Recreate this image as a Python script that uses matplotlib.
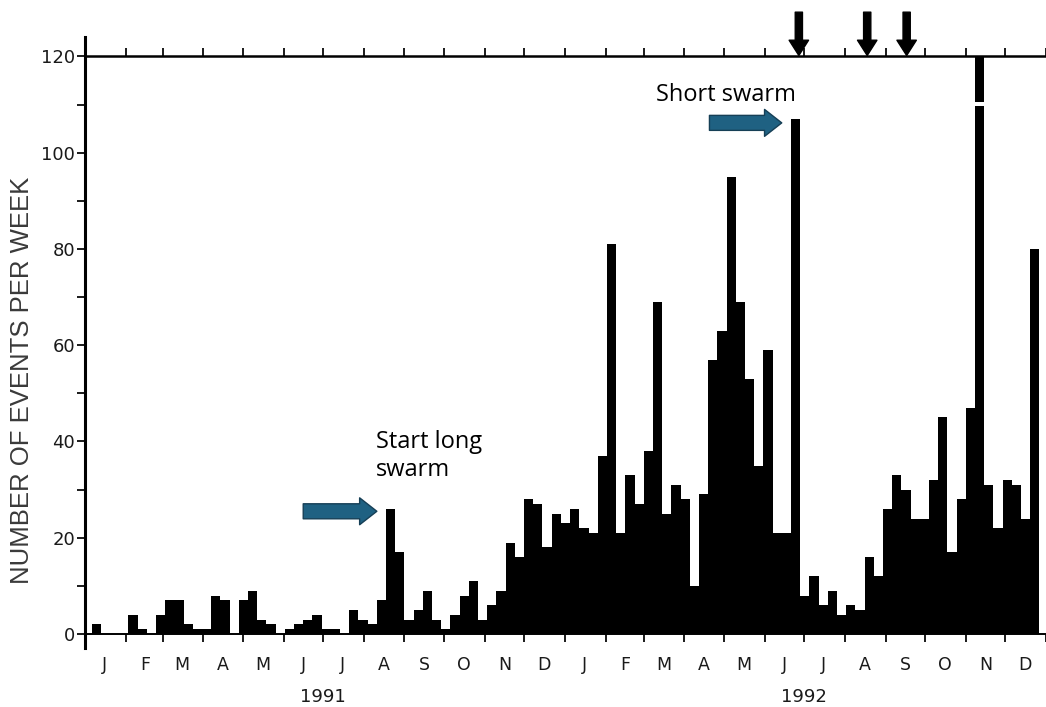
import numpy as np
import matplotlib
matplotlib.use("Agg")
import matplotlib.pyplot as plt
import matplotlib.dates as mdates
from matplotlib.ticker import FuncFormatter, NullFormatter, MultipleLocator

# weekly event counts, first week starts FIRST_WEEK
FIRST_WEEK = "1991-01-06"
COUNTS = [
    2, 0, 0, 0, 4, 1, 0, 4, 7, 7, 2, 1, 1, 8, 7, 0, 7, 9, 3, 2,
    0, 1, 2, 3, 4, 1, 1, 0, 5, 3, 2, 7, 26, 17, 3, 5, 9, 3, 1, 4,
    8, 11, 3, 6, 9, 19, 16, 28, 27, 18, 25, 23, 26, 22, 21, 37, 81, 21, 33, 27,
    38, 69, 25, 31, 28, 10, 29, 57, 63, 95, 69, 53, 35, 59, 21, 21, 107, 8, 12, 6,
    9, 4, 6, 5, 16, 12, 26, 33, 30, 24, 24, 32, 45, 17, 28, 47, 120, 31, 22, 32,
    31, 24, 80,
]
OFF_SCALE = 120          # bar drawn broken (exceeds the scale)
BREAK_AT = (109.8, 0.8)  # position / size of the white break

ERUPTIONS = ["1992-06-27", "1992-08-18", "1992-09-17"]
YEARS = ["1991", "1992"]

ARROW_BLUE = "#1f6182"
ARROW_EDGE = "#163f56"
INK = "#1a1a1a"

weeks = np.datetime64(FIRST_WEEK) + np.arange(len(COUNTS)) * np.timedelta64(7, "D")
x = mdates.date2num(weeks)
d = lambda s: mdates.date2num(np.datetime64(s))

fig = plt.figure(figsize=(10.46, 7.07), dpi=100)
ax = fig.add_axes([85 / 1046, (707 - 647.5) / 707, (1046 - 85) / 1046, (647.5 - 37.2) / 707])

ax.bar(x, COUNTS, width=7, align="edge", color="black", linewidth=0)
for xi, c in zip(x, COUNTS):
    if c >= OFF_SCALE:
        ax.bar(xi, BREAK_AT[1], bottom=BREAK_AT[0], width=7, align="edge",
               color="white", linewidth=0)

ax.set_xlim(d("1991-01-01"), d("1993-01-01"))
ax.set_ylim(-2.8, 124)

# spines
ax.spines["right"].set_visible(False)
ax.spines["bottom"].set_position(("data", 0))
ax.spines["top"].set_position(("data", 120))
ax.spines["left"].set_linewidth(2.2)
ax.spines["top"].set_linewidth(1.8)
ax.spines["bottom"].set_linewidth(1.4)

# x ticks: month boundaries, letters mid-month
ax.xaxis.set_major_locator(mdates.MonthLocator())
ax.xaxis.set_major_formatter(NullFormatter())
ax.xaxis.set_minor_locator(mdates.MonthLocator(bymonthday=16))
ax.xaxis.set_minor_formatter(
    FuncFormatter(lambda v, p: mdates.num2date(v).strftime("%b")[0]))
ax.tick_params(axis="x", which="major", direction="out", length=6, width=1.4,
               top=True, bottom=True, color=INK)
ax.tick_params(axis="x", which="minor", length=0, pad=16, top=False,
               labelsize=12.5, labelcolor=INK)
for t in ax.xaxis.get_minor_ticks():
    t.label2.set_visible(False)

# y ticks
ax.yaxis.set_major_locator(MultipleLocator(20))
ax.set_yticks(np.arange(10, 120, 20), minor=True)
ax.tick_params(axis="y", which="both", direction="out", length=6, width=1.4,
               pad=1, color=INK)
ax.tick_params(axis="y", which="major", labelsize=13, labelcolor=INK)
ax.set_yticks(np.arange(0, 121, 20))

for yr in YEARS:
    ax.text(d(f"{yr}-07-01"), -13.1, yr, ha="center", va="center",
            fontsize=13, color=INK, clip_on=False)

fig.text(22 / 1046, (707 - 380) / 707, "NUMBER OF EVENTS PER WEEK",
         rotation=90, ha="center", va="center", fontsize=18.5,
         family="Liberation Sans", color="#3a3a3a")

# eruption markers above the frame
for e in ERUPTIONS:
    ax.annotate("", xy=(d(e), 120.2), xytext=(d(e), 129.2),
                arrowprops=dict(arrowstyle="simple,head_length=0.55,head_width=0.7,tail_width=0.26",
                                mutation_scale=20, fc="black", ec="black",
                                shrinkA=0, shrinkB=0),
                annotation_clip=False)

# annotations
arrow_style = "simple,head_length=0.62,head_width=0.97,tail_width=0.54"
ax.annotate("", xy=(d("1991-08-11"), 25.5), xytext=(d("1991-06-16"), 25.5),
            arrowprops=dict(arrowstyle=arrow_style, mutation_scale=20,
                            fc=ARROW_BLUE, ec=ARROW_EDGE, lw=1.0,
                            shrinkA=0, shrinkB=0))
ax.text(d("1991-08-10"), 42.4, "Start long\nswarm", ha="left", va="top",
        fontsize=17, family="Open Sans", linespacing=1.2, color="black")

ax.annotate("", xy=(d("1992-06-14"), 106.2), xytext=(d("1992-04-20"), 106.2),
            arrowprops=dict(arrowstyle=arrow_style, mutation_scale=20,
                            fc=ARROW_BLUE, ec=ARROW_EDGE, lw=1.0,
                            shrinkA=0, shrinkB=0))
ax.text(d("1992-03-10"), 112, "Short swarm", ha="left", va="center",
        fontsize=17, family="Open Sans", color="black")

fig.savefig("out.png", dpi=100)
